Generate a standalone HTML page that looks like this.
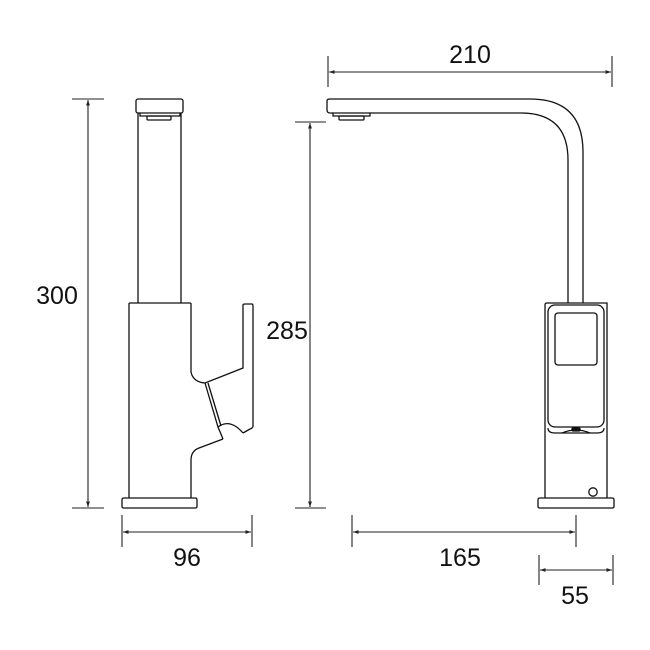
<!DOCTYPE html>
<html><head><style>
html,body{margin:0;padding:0;background:#fff;}
svg{display:block;}
text{font-family:"Liberation Sans",sans-serif;font-size:25px;fill:#111;text-anchor:middle;}
</style></head><body>
<svg width="650" height="650" viewBox="0 0 650 650" xmlns="http://www.w3.org/2000/svg">
<defs>
<marker id="a" viewBox="0 0 10 10" refX="10" refY="5" markerWidth="7" markerHeight="5" orient="auto-start-reverse"><path d="M0,1.5 L10,5 L0,8.5 z" fill="#222"/></marker>
</defs>
<g stroke="#222" stroke-width="1.1" fill="none">
<!-- left dimension 300 -->
<line x1="72" y1="99" x2="104" y2="99"/>
<line x1="72" y1="508" x2="104" y2="508"/>
<line x1="88" y1="100" x2="88" y2="507" marker-start="url(#a)" marker-end="url(#a)"/>
<!-- dim 96 -->
<line x1="122" y1="515" x2="122" y2="547"/>
<line x1="252" y1="515" x2="252" y2="547"/>
<line x1="123" y1="532" x2="251" y2="532" marker-start="url(#a)" marker-end="url(#a)"/>
<!-- dim 285 -->
<line x1="295" y1="122" x2="326" y2="122"/>
<line x1="295" y1="508" x2="326" y2="508"/>
<line x1="310" y1="123" x2="310" y2="507" marker-start="url(#a)" marker-end="url(#a)"/>
<!-- dim 210 -->
<line x1="328" y1="56" x2="328" y2="87"/>
<line x1="612" y1="56" x2="612" y2="87"/>
<line x1="329" y1="72" x2="611" y2="72" marker-start="url(#a)" marker-end="url(#a)"/>
<!-- dim 165 -->
<line x1="352" y1="515" x2="352" y2="547"/>
<line x1="576" y1="515" x2="576" y2="547"/>
<line x1="353" y1="532" x2="575" y2="532" marker-start="url(#a)" marker-end="url(#a)"/>
<!-- dim 55 -->
<line x1="539" y1="555" x2="539" y2="585"/>
<line x1="613" y1="555" x2="613" y2="585"/>
<line x1="540" y1="570" x2="612" y2="570" marker-start="url(#a)" marker-end="url(#a)"/>
</g>
<g stroke="#111" stroke-width="1.3" fill="none">
<!-- left view -->
<rect x="136" y="99" width="47" height="14" rx="2"/>
<path d="M140,113 L140,116 L180,116 L180,113"/>
<rect x="147" y="116" width="24" height="4" rx="1"/>
<line x1="138" y1="113" x2="138" y2="303"/>
<line x1="181" y1="113" x2="181" y2="303"/>
<path d="M129,498 L129,304 Q129,303 130,303 L190,303 Q191,303 191,304 L191,372 Q193,382 205,383 L243,368 L243,305 Q243,304 245,304 L252,304 Q253,304 253,306 L253,426 Q253,428 250,429 L243,433"/>
<path d="M205,383 L218,427 Q230,418 243,433"/>
<path d="M208,383 L221,426"/>
<path d="M223,439 L218,427"/>
<path d="M223,439 L199,448 Q191,451 191,460 L191,498"/>
<rect x="122" y="498" width="75" height="10" rx="1.5"/>
<!-- right view spout -->
<path d="M568,303 L568,160 Q568,113 521,113 L330,113 Q327,113 327,110 L327,101 Q327,99 330,99 L530,99 Q583,99 583,152 L583,303"/>
<path d="M333,113 L333,116 L370,116 L370,113"/>
<rect x="339" y="116" width="25" height="4" rx="1"/>
<!-- body -->
<path d="M545,433 L545,305 Q545,303 547,303 L607,303 L607,433"/>
<rect x="548" y="305" width="56" height="122" rx="7"/>
<rect x="555" y="313" width="42" height="52" rx="3"/>
<path d="M548,428 Q548,433 555,433 L597,433 Q604,433 604,428"/>
<path d="M562,433 Q576,427 590,433"/>
<rect x="572" y="428" width="8" height="3" rx="1" fill="#111"/>
<line x1="545" y1="433" x2="545" y2="498"/>
<line x1="607" y1="433" x2="607" y2="498"/>
<circle cx="593" cy="492" r="4.2"/>
<rect x="538" y="498" width="76" height="10" rx="1.5"/>
</g>
<text x="470" y="63">210</text>
<text x="57" y="304">300</text>
<text x="287" y="339">285</text>
<text x="187" y="566">96</text>
<text x="460" y="566">165</text>
<text x="575" y="604">55</text>
</svg>
</body></html>
